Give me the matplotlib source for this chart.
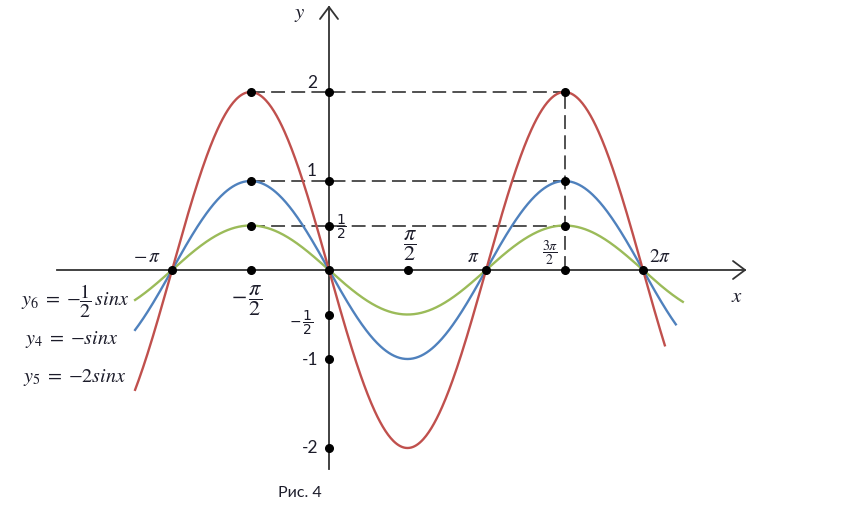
import numpy as np
import matplotlib
matplotlib.use("Agg")
import matplotlib.pyplot as plt

plt.rcParams['lines.scale_dashes'] = False

# ---- data ----
amplitudes = [-0.5, -1.0, -2.0]            # y6, y4, y5
curve_colors = ['#9BBB59', '#4F81BD', '#C0504D']
curve_x_start = [-3.88, -3.88, -3.88]
curve_x_end = [7.08, 6.94, 6.72]
legend_labels = [r'$y_6\;=\;{-}\dfrac{1}{2}\,sinx$', r'$y_4\;=\;{-}sinx$', r'$y_5\;=\;{-}2sinx$']

pi = np.pi
dash_levels = [2.0, 1.0, 0.5]
dots_x = [-pi/2, -pi/2, -pi/2, -pi/2, 0, 0, 0, 0, 0, 0, 0,
          -pi, pi/2, pi, 3*pi/2, 3*pi/2, 3*pi/2, 3*pi/2, 2*pi]
dots_y = [2, 1, 0.5, 0, 2, 1, 0.5, 0, -0.5, -1, -2,
          0, 0, 0, 0, 2, 1, 0.5, 0]

# ---- figure geometry (pixel mapping) ----
W, H = 846, 506
X0, Y0 = 329, 271          # origin in px
SX = 157 / pi              # px per radian
SY = 89                    # px per unit

def P(px, py):
    return ((px - X0) / SX, (Y0 - py) / SY)

fig = plt.figure(figsize=(W/100, H/100), dpi=100)
ax = fig.add_axes([0, 0, 1, 1])
ax.set_xlim(-X0 / SX, (W - X0) / SX)
ax.set_ylim(-(H - Y0) / SY, Y0 / SY)
ax.axis('off')

axc = '#333333'
# axes
xl, xr = P(57, 0)[0], P(745, 0)[0]
yb, yt = P(0, 470)[1], P(0, 8)[1]
ax.plot([xl, xr], [0, 0], color=axc, lw=1.3, zorder=2)
ax.plot([0, 0], [yb, yt], color=axc, lw=1.3, zorder=2)
# arrow heads
wx, wy = P(733, 262)
ax.plot([wx, xr, wx], [wy, 0, -wy], color=axc, lw=1.3, zorder=2, solid_capstyle='round')
ux, uy = P(320, 20)
ax.plot([ux, 0, -ux], [uy, yt, uy], color=axc, lw=1.3, zorder=2, solid_capstyle='round')

# dashed guides
for lv in dash_levels:
    ax.plot([-pi/2, 3*pi/2], [lv, lv], color='#222222', lw=1.1,
            dashes=(10, 4.5), zorder=1)
ax.plot([3*pi/2, 3*pi/2], [0, 2], color='#222222', lw=1.1,
        dashes=(10, 4.5), zorder=1)

# curves
for a, c, x0, x1 in zip(amplitudes, curve_colors, curve_x_start, curve_x_end):
    xs = np.linspace(x0, x1, 600)
    ax.plot(xs, a * np.sin(xs), color=c, lw=1.7, zorder=3)

# dots
ax.plot(dots_x, dots_y, 'o', color='black', ms=5.5, zorder=4)

tc = '#1c1c2a'
sans = 'Lato'

def T(px, py, s, size, ha='center', va='center', mf='stix', family=sans):
    x, y = P(px, py)
    ax.text(x, y, s, fontsize=size, ha=ha, va=va, color=tc,
            math_fontfamily=mf, family=family)

# axis names
T(300, 14, r'$y$', 15)
T(737, 296, r'$x$', 15)

# y tick labels
T(312, 83, '2', 12.5)
T(312, 171, '1', 12.5)
T(341, 227, r'$\dfrac{1}{2}$', 10, mf='dejavusans')
T(301, 323, r'$-\,\dfrac{1}{2}$', 10, mf='dejavusans')
T(310, 360, '-1', 12.5)
T(310, 448, '-2', 12.5)

# x tick labels
T(147, 256, r'$-\,\pi$', 14)
T(247, 301, r'$-\,\dfrac{\pi}{2}$', 16)
T(410, 246, r'$\dfrac{\pi}{2}$', 16)
T(473, 256, r'$\pi$', 14)
T(550, 253, r'$\dfrac{3\pi}{2}$', 10)
T(660, 256, r'$2\pi$', 14)

# legend labels
T(21, 301, legend_labels[0], 14.5, ha='left')
T(25, 340, legend_labels[1], 14.5, ha='left')
T(23, 378, legend_labels[2], 14.5, ha='left')

# caption
T(300, 493, 'Рис. 4', 11.5)

fig.savefig('out.png', dpi=100)
